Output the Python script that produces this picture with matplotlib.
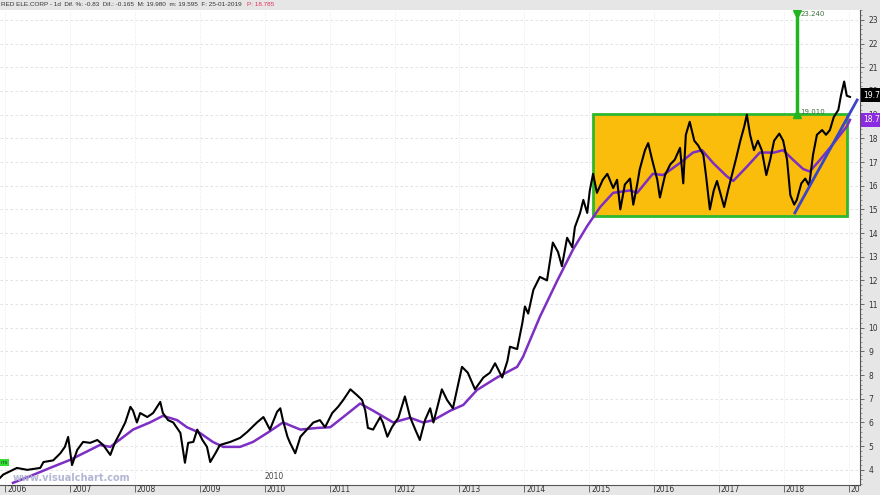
import matplotlib
matplotlib.use('Agg')
import matplotlib.pyplot as plt
from matplotlib.patches import Rectangle
from matplotlib.ticker import MultipleLocator
from matplotlib.transforms import blended_transform_factory
import numpy as np

# price path (decimal year, euro)
price_t = [2005.92, 2005.97, 2006.12, 2006.18, 2006.34, 2006.54, 2006.59, 2006.74, 2006.85, 2006.92,
           2006.97, 2007.03, 2007.11, 2007.20, 2007.31, 2007.42, 2007.51, 2007.62, 2007.69, 2007.77,
           2007.85, 2007.93, 2007.97, 2008.03, 2008.08, 2008.19, 2008.28, 2008.39, 2008.43, 2008.51,
           2008.59, 2008.70, 2008.77, 2008.82, 2008.90, 2008.96, 2009.04, 2009.11, 2009.16, 2009.24,
           2009.31, 2009.47, 2009.62, 2009.73, 2009.88, 2009.98, 2010.08, 2010.19, 2010.24, 2010.28,
           2010.35, 2010.39, 2010.47, 2010.55, 2010.65, 2010.75, 2010.85, 2010.93, 2011.04, 2011.13,
           2011.21, 2011.32, 2011.42, 2011.50, 2011.55, 2011.59, 2011.67, 2011.78, 2011.82, 2011.89,
           2011.96, 2012.06, 2012.16, 2012.24, 2012.32, 2012.39, 2012.47, 2012.55, 2012.60, 2012.73,
           2012.81, 2012.90, 2013.04, 2013.13, 2013.24, 2013.37, 2013.47, 2013.55, 2013.66, 2013.74,
           2013.78, 2013.89, 2013.97, 2014.01, 2014.06, 2014.14, 2014.24, 2014.35, 2014.44, 2014.52,
           2014.58, 2014.66, 2014.74, 2014.78, 2014.86, 2014.91, 2014.97, 2015.01, 2015.06, 2015.12,
           2015.21, 2015.28, 2015.37, 2015.43, 2015.48, 2015.55, 2015.63, 2015.68, 2015.74, 2015.78,
           2015.86, 2015.91, 2015.97, 2016.05, 2016.09, 2016.17, 2016.25, 2016.32, 2016.40, 2016.45,
           2016.49, 2016.55, 2016.62, 2016.68, 2016.76, 2016.80, 2016.86, 2016.92, 2016.97, 2017.03,
           2017.08, 2017.14, 2017.20, 2017.26, 2017.33, 2017.39, 2017.43, 2017.48, 2017.54, 2017.60,
           2017.66, 2017.73, 2017.79, 2017.85, 2017.93, 2017.99, 2018.05, 2018.10, 2018.16, 2018.20,
           2018.27, 2018.33, 2018.39, 2018.45, 2018.51, 2018.59, 2018.65, 2018.71, 2018.77, 2018.84,
           2018.88, 2018.93, 2018.97, 2019.02]
price_v = [3.66, 3.80, 4.00, 4.08, 4.00, 4.08, 4.33, 4.40, 4.70, 4.97,
           5.39, 4.20, 4.84, 5.18, 5.14, 5.26, 5.05, 4.63, 5.14, 5.56,
           6.00, 6.66, 6.50, 6.00, 6.40, 6.23, 6.40, 6.87, 6.40, 6.10,
           6.00, 5.56, 4.30, 5.14, 5.18, 5.70, 5.26, 4.97, 4.33, 4.70,
           5.05, 5.18, 5.35, 5.60, 6.00, 6.23, 5.70, 6.45, 6.60, 6.10,
           5.40, 5.14, 4.70, 5.40, 5.70, 6.00, 6.10, 5.80, 6.40, 6.66,
           6.95, 7.40, 7.16, 6.95, 6.50, 5.77, 5.70, 6.23, 6.00, 5.40,
           5.80, 6.20, 7.10, 6.23, 5.70, 5.26, 6.10, 6.60, 6.00, 7.40,
           6.95, 6.60, 8.35, 8.10, 7.40, 7.90, 8.10, 8.50, 7.90, 8.60,
           9.20, 9.10, 10.20, 10.90, 10.60, 11.60, 12.15, 12.00, 13.60, 13.20,
           12.60, 13.80, 13.40, 14.25, 14.85, 15.40, 14.85, 15.80, 16.50, 15.70,
           16.25, 16.50, 15.90, 16.25, 15.00, 16.05, 16.30, 15.20, 16.05, 16.70,
           17.50, 17.80, 17.10, 16.25, 15.50, 16.45, 16.90, 17.10, 17.60, 16.10,
           18.15, 18.70, 17.90, 17.70, 17.30, 16.45, 15.00, 15.80, 16.20, 15.60,
           15.10, 15.80, 16.45, 17.10, 17.90, 18.50, 19.00, 18.15, 17.50, 17.90,
           17.50, 16.45, 17.10, 17.90, 18.20, 17.90, 17.10, 15.60, 15.20, 15.40,
           16.10, 16.30, 16.00, 17.30, 18.15, 18.35, 18.15, 18.35, 18.90, 19.20,
           19.80, 20.40, 19.80, 19.75]

# moving average (purple)
ma_t = [2006.12, 2006.39, 2006.69, 2007.00, 2007.46, 2007.62, 2007.97, 2008.23, 2008.43, 2008.65,
        2008.80, 2009.00, 2009.20, 2009.36, 2009.62, 2009.82, 2010.04, 2010.28, 2010.55, 2010.81,
        2011.01, 2011.21, 2011.47, 2011.67, 2011.98, 2012.24, 2012.44, 2012.60, 2012.86, 2013.06,
        2013.27, 2013.58, 2013.89, 2013.98, 2014.24, 2014.51, 2014.75, 2014.97, 2015.17, 2015.37,
        2015.63, 2015.74, 2015.98, 2016.14, 2016.40, 2016.60, 2016.74, 2016.91, 2017.12, 2017.22,
        2017.43, 2017.63, 2017.85, 2017.99, 2018.14, 2018.30, 2018.40, 2018.56, 2018.77, 2018.97,
        2019.02]
ma_v = [3.45, 3.74, 4.08, 4.42, 5.05, 4.97, 5.70, 6.00, 6.28, 6.10,
        5.80, 5.56, 5.18, 4.97, 4.97, 5.18, 5.56, 6.00, 5.70, 5.77,
        5.80, 6.23, 6.80, 6.50, 6.00, 6.20, 6.00, 6.10, 6.50, 6.74,
        7.37, 7.90, 8.35, 8.77, 10.46, 12.00, 13.30, 14.30, 15.10, 15.70,
        15.80, 15.70, 16.50, 16.45, 16.96, 17.40, 17.50, 16.96, 16.40, 16.20,
        16.80, 17.40, 17.40, 17.50, 17.10, 16.70, 16.60, 17.10, 17.80, 18.50,
        18.78]

trend_t = [2018.17, 2019.13]
trend_v = [14.85, 19.62]

box_t = [2015.06, 2018.97]
box_v = [14.72, 19.01]

target_t = 2018.21
target_v = [19.01, 23.24]

years = list(range(2006, 2020))
year_labels = [str(y) for y in range(2006, 2019)] + ['20']

panel = '#e6e6e6'
fig = plt.figure(figsize=(8.8, 4.95), dpi=100)
fig.patch.set_facecolor(panel)
ax = fig.add_axes([0, 10 / 495, 860 / 880, 475 / 495])
ax.set_facecolor('white')
ax.set_xlim(2005.92, 2019.174)
ax.set_ylim(3.36, 23.42)

# faint grid
for y in range(4, 24):
    ax.axhline(y, color='#dcdce4', lw=0.6, ls=(0, (3, 3)), zorder=0)
for yr in years:
    ax.axvline(yr, color='#e2e2e8', lw=0.6, ls=(0, (1, 2)), zorder=0)

# consolidation box
ax.add_patch(Rectangle((box_t[0], box_v[0]), box_t[1] - box_t[0], box_v[1] - box_v[0],
                       facecolor='#fbbd0c', edgecolor='#2eb82e', lw=2, zorder=1))

ax.plot(ma_t, ma_v, color='#7d2fc4', lw=1.8, zorder=3)
ax.plot(price_t, price_v, color='black', lw=1.5, zorder=4)
ax.plot(trend_t, trend_v, color='#3a45c8', lw=2.0, zorder=5)

# projected target
ax.plot([target_t, target_t], target_v, color='#22b522', lw=2.5, zorder=5)
ax.plot([target_t], [target_v[0]], marker='^', color='#22b522', ms=6, zorder=6)
ax.plot([target_t], [target_v[1]], marker='v', color='#22b522', ms=6, zorder=6)
ax.text(target_t + 0.05, target_v[1], '23.240', fontsize=5, color='#3c6e3c', va='center')
ax.text(target_t + 0.05, target_v[0] + 0.12, '19.010', fontsize=5, color='#3c6e3c', va='center')

# axes styling
for s in ['left', 'top']:
    ax.spines[s].set_visible(False)
for s in ['right', 'bottom']:
    ax.spines[s].set_color('#555555')
    ax.spines[s].set_linewidth(0.8)

ax.yaxis.tick_right()
ax.yaxis.set_minor_locator(MultipleLocator(0.2))
ax.set_yticks(range(4, 24))
ax.set_yticklabels([str(v) for v in range(4, 24)])
ax.tick_params(axis='y', which='major', length=3, width=0.6, color='#555555',
               labelsize=5.5, labelcolor='#333333', pad=3)
ax.tick_params(axis='y', which='minor', length=1.5, width=0.5, color='#777777')

ax.set_xticks(years)
ax.set_xticklabels([])
ax.tick_params(axis='x', which='major', length=5, width=0.6, color='#555555')
trans = blended_transform_factory(ax.transData, fig.transFigure)
for yr, lab in zip(years, year_labels):
    ax.text(yr + 0.03, 1.5 / 495, lab, transform=trans, fontsize=5.5,
            color='#333333', ha='left', va='bottom', clip_on=False)

# in-chart year separator and watermark
ax.text(2010.0, 3.7, '2010', fontsize=5.5, color='#444444', ha='left', va='center')
ax.text(2006.12, 3.65, 'www.visualchart.com', fontsize=7, fontweight='bold',
        color='#a9afd0', ha='left', va='center', alpha=0.9)
ax.text(2005.925, 4.3, 'ms', fontsize=3.5, color='#224422', ha='left', va='center',
        bbox=dict(boxstyle='square,pad=0.25', facecolor='#33dd33', edgecolor='none'))

# last value flags on the price scale (clipped by the window edge, as in the source)
fig.text(863 / 880, 1 - 95 / 495, '19.7', fontsize=5.5, color='white', va='center', ha='left',
         zorder=10, bbox=dict(boxstyle='square,pad=0.3', facecolor='black', edgecolor='none'))
fig.text(863 / 880, 1 - 120 / 495, '18.7', fontsize=5.5, color='white', va='center', ha='left',
         zorder=10, bbox=dict(boxstyle='square,pad=0.3', facecolor='#8a2be2', edgecolor='none'))

# header line
hdr = 'RED ELE.CORP - 1d  Dif. %: -0.83  Dif.: -0.165  M: 19.980  m: 19.595  F: 25-01-2019'
fig.text(0.001, 1 - 5 / 495, hdr, fontsize=4.6, color='#333333', va='center', ha='left',
         family=['Liberation Sans Narrow', 'Liberation Sans'])
fig.text(247 / 880, 1 - 5 / 495, 'P: 18.785', fontsize=4.6, color='#e8305a', va='center',
         ha='left', family=['Liberation Sans Narrow', 'Liberation Sans'])

fig.savefig('out.png', dpi=100, facecolor=fig.get_facecolor())
